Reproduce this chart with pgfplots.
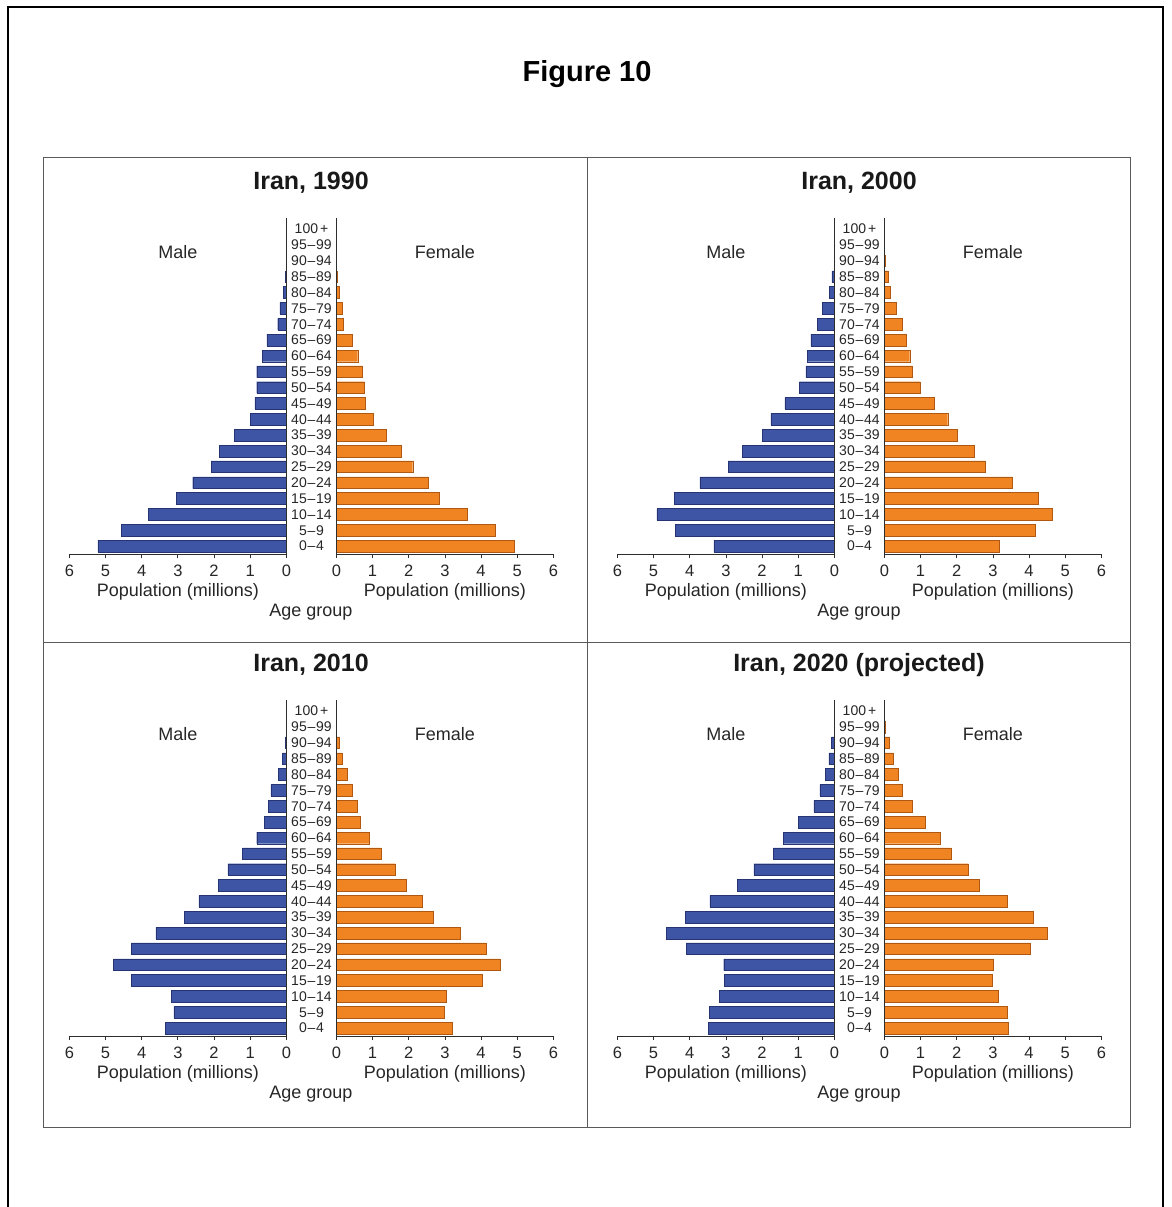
\documentclass[border=0pt]{standalone}
\usepackage{fontspec}
\setmainfont{Liberation Sans}
\usepackage{pgfplots}
\pgfplotsset{compat=1.18}
\usepackage{pgfplotstable}

\definecolor{maleblue}{RGB}{62,84,164}
\definecolor{maleedge}{RGB}{38,52,115}
\definecolor{femorange}{RGB}{240,132,34}
\definecolor{femedge}{RGB}{175,88,18}
\definecolor{axisgray}{RGB}{45,45,45}
\definecolor{boxgray}{RGB}{90,90,90}

% age index: 0 = 0-4 ... 20 = 100+
\pgfplotstableread{
age male female
0  5.21 4.91
1  4.56 4.38
2  3.82 3.62
3  3.05 2.84
4  2.59 2.53
5  2.08 2.11
6  1.85 1.80
7  1.43 1.39
8  1.00 1.02
9  0.87 0.81
10 0.82 0.78
11 0.82 0.71
12 0.66 0.59
13 0.54 0.45
14 0.24 0.20
15 0.18 0.17
16 0.09 0.09
17 0.02 0.02
18 0    0
19 0    0
20 0    0
}\dataA

\pgfplotstableread{
age male female
0  3.33 3.18
1  4.39 4.17
2  4.91 4.64
3  4.42 4.26
4  3.72 3.53
5  2.94 2.79
6  2.54 2.48
7  1.99 2.01
8  1.76 1.75
9  1.37 1.37
10 0.97 0.99
11 0.79 0.76
12 0.74 0.70
13 0.65 0.60
14 0.48 0.50
15 0.34 0.32
16 0.14 0.15
17 0.07 0.11
18 0.01 0.02
19 0    0
20 0    0
}\dataB

\pgfplotstableread{
age male female
0  3.35 3.19
1  3.11 2.99
2  3.18 3.03
3  4.29 4.04
4  4.78 4.52
5  4.29 4.15
6  3.61 3.43
7  2.82 2.69
8  2.42 2.38
9  1.89 1.92
10 1.62 1.63
11 1.21 1.24
12 0.82 0.90
13 0.61 0.66
14 0.50 0.57
15 0.43 0.44
16 0.22 0.29
17 0.11 0.16
18 0.03 0.09
19 0    0
20 0    0
}\dataC

\pgfplotstableread{
age male female
0  3.48 3.42
1  3.45 3.39
2  3.19 3.14
3  3.05 2.98
4  3.06 3.02
5  4.10 4.04
6  4.64 4.50
7  4.13 4.11
8  3.44 3.40
9  2.68 2.62
10 2.23 2.32
11 1.69 1.85
12 1.41 1.54
13 0.99 1.12
14 0.57 0.78
15 0.40 0.49
16 0.26 0.37
17 0.15 0.24
18 0.08 0.13
19 0.01 0.02
20 0    0
}\dataD

\newcommand{\dsh}{\hspace{0.8pt}–\hspace{0.8pt}}

\pgfplotsset{
  pyr/.style={
    anchor=south west, scale only axis, clip=false, axis on top,
    width=217pt, height=336pt,
    xmin=0, xmax=6, ymin=-0.5, ymax=20.7,
    xtick={0,...,6}, ytick={0,...,20},
    axis x line*=bottom,
    xbar, bar width=11.7pt, bar shift=0pt,
    tick align=outside, major tick length=4pt,
    x tick style={axisgray, line width=0.8pt},
    y tick style={draw=none},
    axis line style={axisgray, line width=1pt},
    tick label style={font=\fontsize{16.5}{18}\selectfont, text=black!85},
    xticklabel style={yshift=-3.5pt},
    /pgf/number format/assume math mode=true,
    xlabel={Population (millions)},
    xlabel style={font=\fontsize{18}{21}\selectfont, text=black!85,
      at={(axis description cs:0.5,0)}, anchor=center, yshift=-37.5pt},
  },
  male/.style={pyr, x dir=reverse, axis y line*=right, yticklabels={}},
  female/.style={pyr, axis y line*=left,
    yticklabels={0\dsh4,5\dsh9,10\dsh14,15\dsh19,20\dsh24,25\dsh29,30\dsh34,35\dsh39,40\dsh44,45\dsh49,50\dsh54,55\dsh59,60\dsh64,65\dsh69,70\dsh74,75\dsh79,80\dsh84,85\dsh89,90\dsh94,95\dsh99,100\hspace{2pt}+},
    yticklabel style={font=\fontsize{14}{16}\selectfont, anchor=center, xshift=-20.9pt}},
}

\newcommand{\panel}[4]{%
  \begin{axis}[male, at={(69.4pt+#1pt,-554pt-#2pt)}]
    \addplot[fill=maleblue, draw=maleedge, line width=0.4pt] table[x=male, y=age] {#3};
    \node[font=\fontsize{18}{21}\selectfont, text=black!85] at (axis description cs:0.5,0.899) {Male};
  \end{axis}
  \begin{axis}[female, at={(336.4pt+#1pt,-554pt-#2pt)}]
    \addplot[fill=femorange, draw=femedge, line width=0.4pt] table[x=female, y=age] {#3};
    \node[font=\fontsize{18}{21}\selectfont, text=black!85] at (axis description cs:0.5,0.899) {Female};
  \end{axis}
  \node[font=\bfseries\fontsize{25}{29}\selectfont, text=black!90] at (311pt+#1pt,-183pt-#2pt) {#4};
  \node[font=\fontsize{18}{21}\selectfont, text=black!85] at (311pt+#1pt,-611.7pt-#2pt) {Age group};
}

\begin{document}
\begin{tikzpicture}
  \useasboundingbox (0pt,0pt) rectangle (1171pt,-1207pt);
  \draw[line width=2.2pt] (8pt,-7pt) rectangle (1163pt,-1220pt);
  \node[font=\bfseries\fontsize{29}{33}\selectfont] at (587pt,-74pt) {Figure 10};
  \draw[boxgray, line width=1pt] (43pt,-157pt) rectangle (1130pt,-1127pt);
  \draw[boxgray, line width=1pt] (587pt,-157pt) -- (587pt,-1127pt);
  \draw[boxgray, line width=1pt] (43pt,-642pt) -- (1130pt,-642pt);

  \panel{0}{0}{\dataA}{Iran, 1990}
  \panel{548}{0}{\dataB}{Iran, 2000}
  \panel{0}{482}{\dataC}{Iran, 2010}
  \panel{548}{482}{\dataD}{Iran, 2020 (projected)}
\end{tikzpicture}
\end{document}
